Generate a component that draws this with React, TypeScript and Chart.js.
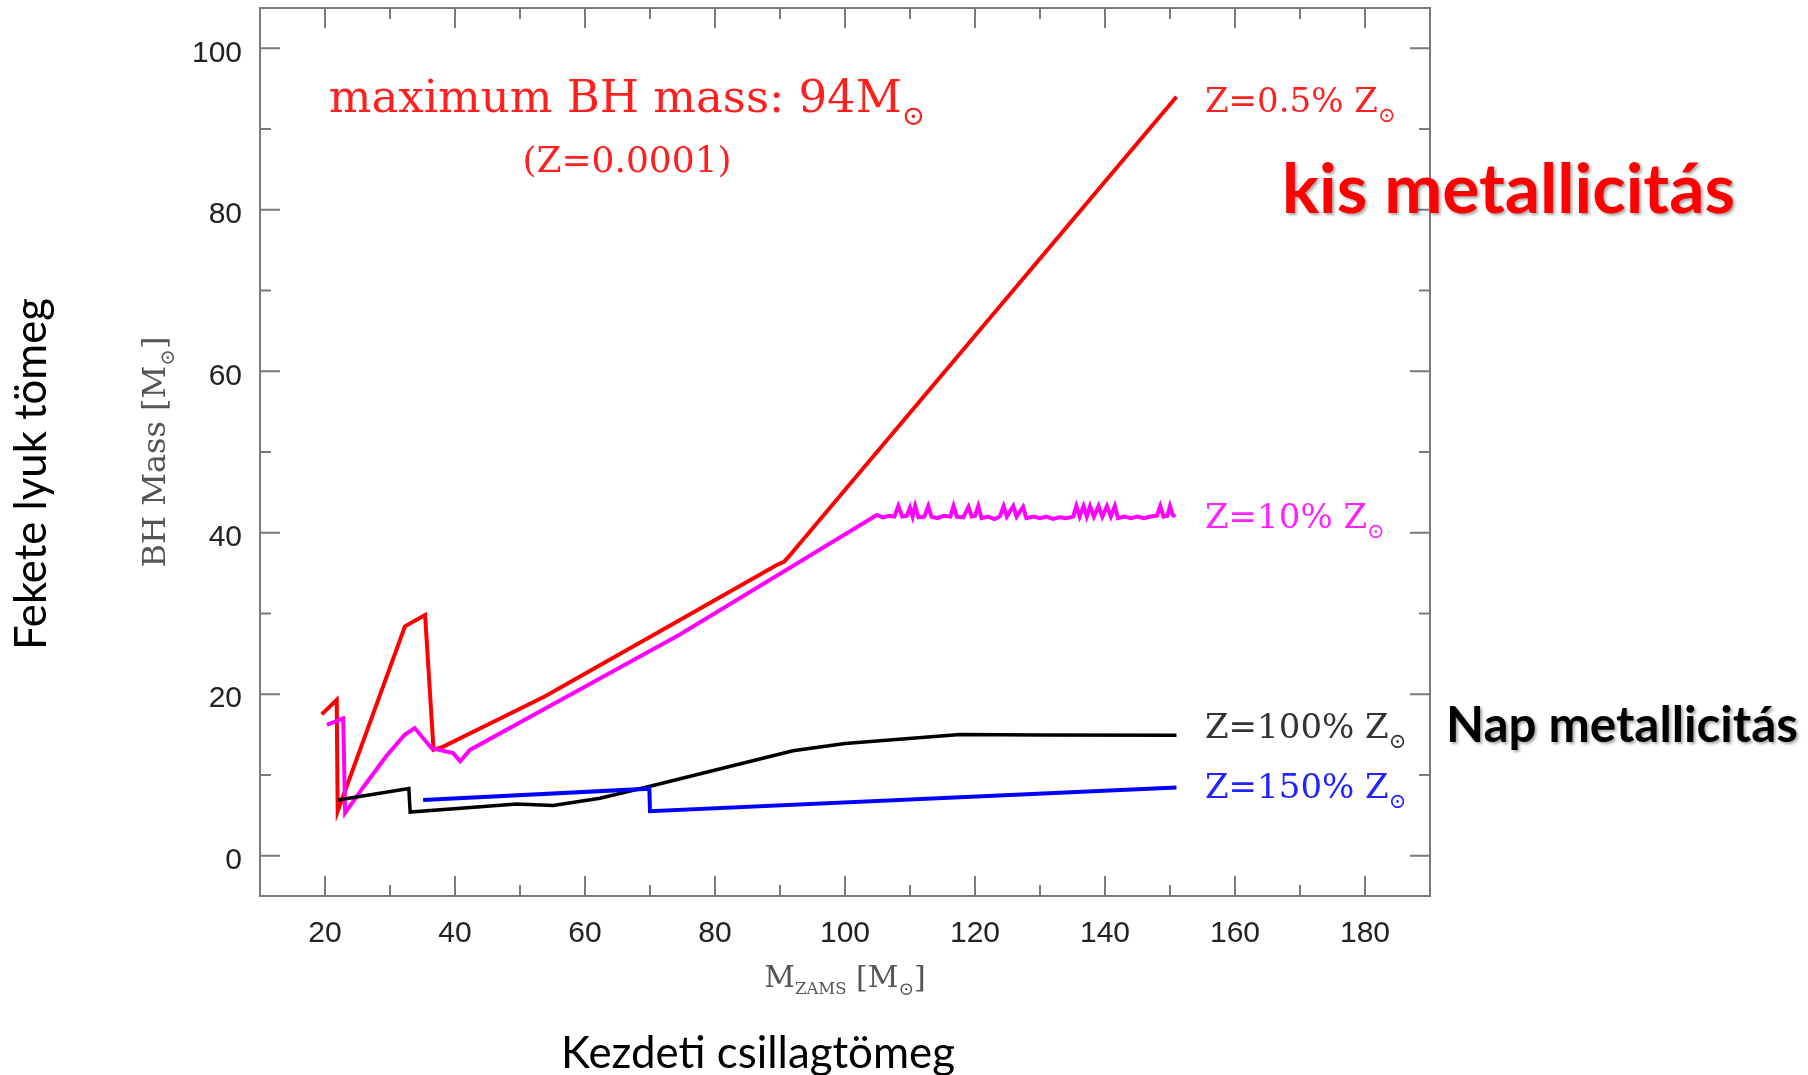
import React, { useEffect, useRef } from "react";
import { Chart, registerables } from "chart.js";

Chart.register(...registerables);

// ---- Data ----
const X_TICKS = [20, 40, 60, 80, 100, 120, 140, 160, 180];
const Y_TICKS = [0, 20, 40, 60, 80, 100];
const X_MINOR = [30, 50, 70, 90, 110, 130, 150, 170];
const Y_MINOR = [10, 30, 50, 70, 90];

// Z = 0.5% Zsun (red)
const redX = [19.5, 21.8, 21.95, 32.3, 35.4, 36.7, 38.2, 53.8, 74.6, 89.5, 90.6, 91.2, 151];
const redY = [17.5, 19.3, 5.5, 28.4, 29.8, 13.1, 13.5, 19.7, 29.2, 36.0, 36.4, 36.9, 94];

// Z = 10% Zsun (magenta)
const magX = [
  20.3, 22.8, 23.1, 26, 29.5, 32.3, 33.8, 36.4, 39.7, 40.8, 42.3, 74.6, 104.9,
  105.8, 106.8, 107.6, 108.2, 108.8, 109.5, 110.0, 110.4, 110.8, 111.3, 112.2, 112.8, 113.3,
  114.2, 115.2, 116.2, 116.7, 117.2, 118.2, 119.0, 119.5, 120.0, 120.5, 121.0, 122.0,
  123.0, 123.8, 124.4, 124.9, 125.9, 126.4, 127.4, 127.9, 129.0, 130.0, 131.0, 132.0,
  133.0, 134.0, 135.1, 135.6, 136.1, 136.7, 137.2, 137.7, 138.3, 139.0, 139.6, 140.3,
  140.9, 141.5, 142.0, 143.0, 144.0, 145.0, 146.0, 147.0, 148.0, 148.5, 149.0, 149.6,
  150.0, 150.4, 150.8,
];
const magY = [
  16.2, 17.0, 5.3, 8.6, 12.4, 15.0, 15.8, 13.3, 12.7, 11.7, 13.1, 27.4, 42.2,
  41.9, 42.1, 42.0, 43.3, 42.0, 42.1, 43.1, 42.0, 43.3, 41.9, 42.0, 43.3, 42.0,
  41.8, 42.1, 42.0, 43.3, 42.0, 41.9, 43.2, 42.0, 42.1, 43.3, 41.8, 42.0,
  41.7, 42.0, 43.3, 42.0, 43.3, 42.0, 43.2, 41.8, 42.0, 41.8, 42.0, 41.7,
  41.9, 41.8, 42.0, 43.3, 42.0, 43.3, 42.0, 43.3, 42.0, 43.3, 42.0, 43.3,
  42.0, 43.3, 41.8, 42.0, 41.8, 42.0, 41.8, 42.0, 42.1, 43.3, 42.0, 42.1,
  43.3, 42.2, 42.0,
];

// Z = 100% Zsun (black)
const blackX = [22.0, 32.9, 33.1, 49.5, 55.1, 62.3, 70, 81, 92, 100, 117.7, 130, 151];
const blackY = [6.9, 8.3, 5.4, 6.4, 6.2, 7.1, 8.6, 10.8, 13.0, 13.9, 15.0, 14.95, 14.9];

// Z = 150% Zsun (blue)
const blueX = [35.1, 69.9, 70.0, 151];
const blueY = [6.9, 8.3, 5.5, 8.45];

const zip = (xs: number[], ys: number[]) => xs.map((x, i) => ({ x, y: ys[i] }));

type Part = { t: string; s?: number; dy?: number };

function drawRich(
  ctx: CanvasRenderingContext2D,
  parts: Part[],
  x: number,
  y: number,
  size: number,
  family: string,
  color: string,
  align: "left" | "center",
  weight = "normal"
) {
  ctx.save();
  ctx.fillStyle = color;
  ctx.textBaseline = "alphabetic";
  ctx.textAlign = "left";
  let total = 0;
  const widths: number[] = [];
  for (const p of parts) {
    ctx.font = `${weight} ${size * (p.s ?? 1)}px ${family}`;
    const w = ctx.measureText(p.t).width;
    widths.push(w);
    total += w;
  }
  let cx = align === "center" ? x - total / 2 : x;
  parts.forEach((p, i) => {
    ctx.font = `${weight} ${size * (p.s ?? 1)}px ${family}`;
    ctx.fillText(p.t, cx, y + (p.dy ?? 0) * size);
    cx += widths[i];
  });
  ctx.restore();
}

function fitSize(ctx: CanvasRenderingContext2D, text: string, family: string, weight: string, width: number) {
  ctx.save();
  ctx.font = `${weight} 100px ${family}`;
  const w = ctx.measureText(text).width;
  ctx.restore();
  return (100 * width) / w;
}

const SERIF = '"DejaVu Serif", serif';
const CAL = 'Lato, "Open Sans", sans-serif';
const SUN: Part = { t: "⊙", s: 0.62, dy: 0.28 };

const framePlugin = {
  id: "frameAndText",
  afterDatasetsDraw(chart: any) {
    const ctx: CanvasRenderingContext2D = chart.ctx;
    const { left, right, top, bottom } = chart.chartArea;
    const xs = chart.scales.x;
    const ys = chart.scales.y;
    ctx.save();
    ctx.strokeStyle = "#7a7a7a";
    ctx.lineWidth = 2;
    ctx.strokeRect(left, top, right - left, bottom - top);
    ctx.beginPath();
    const tick = (vals: number[], len: number) => {
      for (const v of vals) {
        const px = xs.getPixelForValue(v);
        ctx.moveTo(px, bottom);
        ctx.lineTo(px, bottom - len);
        ctx.moveTo(px, top);
        ctx.lineTo(px, top + len);
      }
    };
    const ytick = (vals: number[], len: number) => {
      for (const v of vals) {
        const py = ys.getPixelForValue(v);
        ctx.moveTo(left, py);
        ctx.lineTo(left + len, py);
        ctx.moveTo(right, py);
        ctx.lineTo(right - len, py);
      }
    };
    tick(X_TICKS, 20);
    tick(X_MINOR, 11);
    ytick(Y_TICKS, 20);
    ytick(Y_MINOR, 11);
    ctx.stroke();
    ctx.restore();
  },
  afterDraw(chart: any) {
    const ctx: CanvasRenderingContext2D = chart.ctx;
    // annotation in plot
    drawRich(ctx, [{ t: "maximum BH mass: 94M" }, SUN], 627, 112, 45, SERIF, "#ff1f1f", "center");
    drawRich(ctx, [{ t: "(Z=0.0001)" }], 627, 172, 36, SERIF, "#ff1f1f", "center");
    // series labels
    drawRich(ctx, [{ t: "Z=0.5% Z" }, SUN], 1205, 112, 34, SERIF, "#ff1f1f", "left");
    drawRich(ctx, [{ t: "Z=10% Z" }, SUN], 1205, 528, 34, SERIF, "#ff22ff", "left");
    drawRich(ctx, [{ t: "Z=100% Z" }, SUN], 1205, 738, 34, SERIF, "#333333", "left");
    drawRich(ctx, [{ t: "Z=150% Z" }, SUN], 1205, 798, 34, SERIF, "#2222ff", "left");
    // axis titles (original)
    drawRich(
      ctx,
      [{ t: "M" }, { t: "ZAMS", s: 0.55, dy: 0.22 }, { t: " [M" }, SUN, { t: "]" }],
      845,
      987,
      30,
      SERIF,
      "#555555",
      "center"
    );
    ctx.save();
    ctx.translate(165, 452);
    ctx.rotate(-Math.PI / 2);
    drawRich(ctx, [{ t: "BH Mass [M" }, SUN, { t: "]" }], 0, 0, 32, SERIF, "#555555", "center");
    ctx.restore();

    // overlay Hungarian texts
    const fk = "Fekete lyuk tömeg";
    const fkS = fitSize(ctx, fk, CAL, "normal", 352);
    ctx.save();
    ctx.translate(46, 474);
    ctx.rotate(-Math.PI / 2);
    drawRich(ctx, [{ t: fk }], 0, 0, fkS, CAL, "#000000", "center");
    ctx.restore();

    const kz = "Kezdeti csillagtömeg";
    drawRich(ctx, [{ t: kz }], 758, 1068, fitSize(ctx, kz, CAL, "normal", 394), CAL, "#000000", "center");

    ctx.save();
    ctx.shadowColor = "rgba(0,0,0,0.35)";
    ctx.shadowOffsetX = 2;
    ctx.shadowOffsetY = 2;
    ctx.shadowBlur = 3;
    const km = "kis metallicitás";
    drawRich(ctx, [{ t: km }], 1282, 213, fitSize(ctx, km, CAL, "bold", 453), CAL, "#ff0000", "left", "bold");
    const nm = "Nap metallicitás";
    drawRich(ctx, [{ t: nm }], 1446, 742, fitSize(ctx, nm, CAL, "bold", 352), CAL, "#000000", "left", "bold");
    ctx.restore();
  },
};

export default function App() {
  const ref = useRef<HTMLCanvasElement | null>(null);
  useEffect(() => {
    document.body.style.margin = "0";
    const canvas = ref.current!;
    const tickFont = { family: '"Liberation Sans", Arial, sans-serif', size: 30 };
    const chart = new Chart(canvas, {
      type: "scatter",
      data: {
        datasets: [
          { data: zip(blueX, blueY), borderColor: "#0000ff", borderWidth: 4 },
          { data: zip(blackX, blackY), borderColor: "#000000", borderWidth: 3.5 },
          { data: zip(magX, magY), borderColor: "#ff00ff", borderWidth: 4 },
          { data: zip(redX, redY), borderColor: "#ff0000", borderWidth: 4 },
        ].map((d) => ({
          ...d,
          showLine: true,
          pointRadius: 0,
          pointHoverRadius: 0,
          tension: 0,
          fill: false,
          backgroundColor: d.borderColor,
        })),
      },
      options: {
        animation: false,
        responsive: false,
        devicePixelRatio: 1,
        layout: { padding: { top: 8, right: 378, left: 0, bottom: 0 } },
        plugins: { legend: { display: false }, tooltip: { enabled: false } },
        events: [],
        scales: {
          x: {
            type: "linear",
            min: 10,
            max: 190,
            grid: { display: false, drawTicks: false },
            border: { display: false },
            ticks: { font: tickFont, color: "#222", padding: 20, maxRotation: 0 },
            afterBuildTicks: (s: any) => {
              s.ticks = X_TICKS.map((v) => ({ value: v }));
            },
            afterFit: (s: any) => {
              s.height = 179;
              s.paddingLeft = 0;
              s.paddingRight = 0;
              s.paddingTop = 0;
              s.paddingBottom = 0;
            },
          },
          y: {
            type: "linear",
            min: -5,
            max: 105,
            grid: { display: false, drawTicks: false },
            border: { display: false },
            ticks: { font: tickFont, color: "#222", padding: 18, labelOffset: 5 },
            afterBuildTicks: (s: any) => {
              s.ticks = Y_TICKS.map((v) => ({ value: v }));
            },
            afterFit: (s: any) => {
              s.width = 260;
              s.paddingLeft = 0;
              s.paddingRight = 0;
              s.paddingTop = 0;
              s.paddingBottom = 0;
            },
          },
        },
      } as any,
      plugins: [framePlugin],
    });
    return () => chart.destroy();
  }, []);
  return (
    <div style={{ position: "absolute", left: 0, top: 0, width: 1808, height: 1075, background: "#fff" }}>
      <canvas ref={ref} width={1808} height={1075} style={{ display: "block", width: 1808, height: 1075 }} />
    </div>
  );
}
